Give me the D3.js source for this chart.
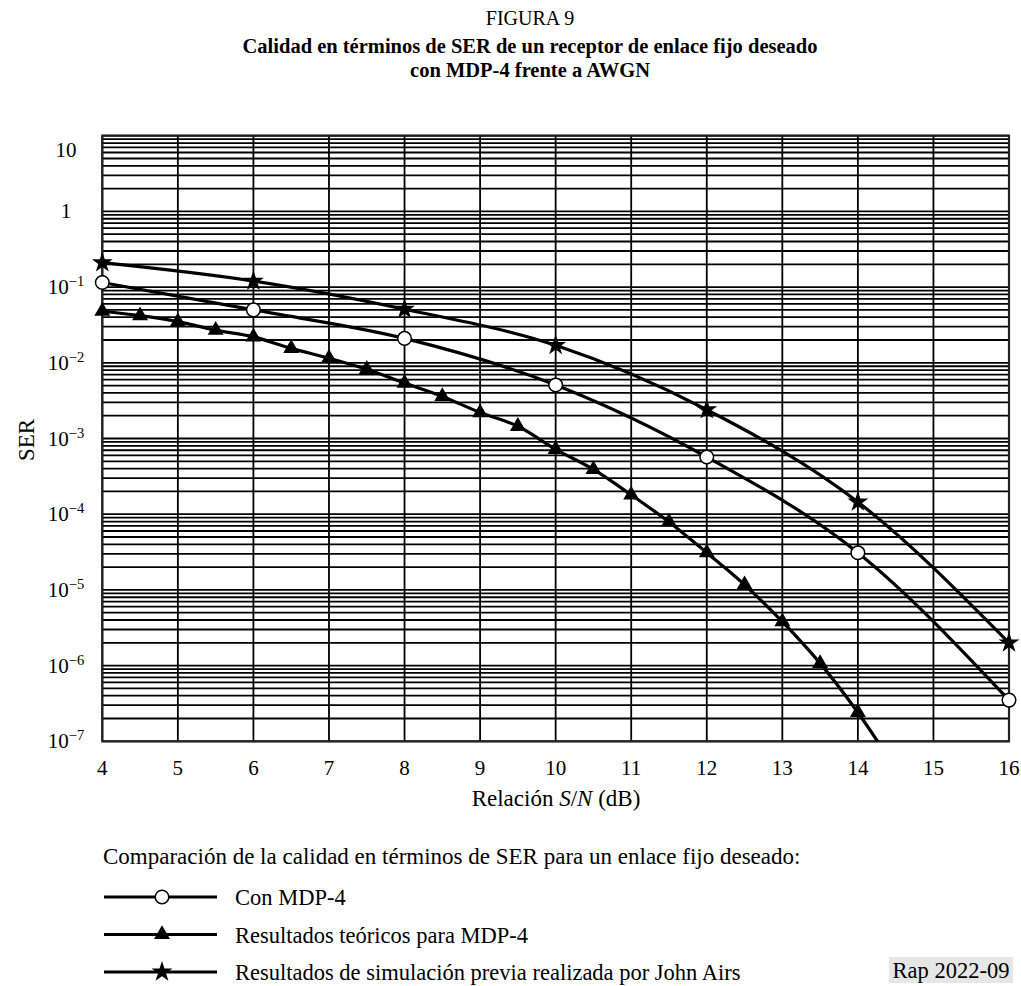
<!DOCTYPE html>
<html>
<head>
<meta charset="utf-8">
<script src="https://cdnjs.cloudflare.com/ajax/libs/d3/7.8.5/d3.min.js"></script>
<style>
  body { margin: 0; background: #fff; }
  text { font-family: "Liberation Serif", "Times New Roman", serif; fill: #000; }
</style>
</head>
<body>
<svg width="1021" height="986"></svg>
<script>
// series (S/N in dB, SER)
var snrStep2 = [4, 6, 8, 10, 12, 14, 16];
var serMdp4 = [0.115, 0.050, 0.021, 0.0051, 5.7e-4, 3.1e-5, 3.5e-7];
var serSim = [0.21, 0.12, 0.051, 0.017, 0.0024, 1.45e-4, 2.0e-6];
var snrHalf = [4, 4.5, 5, 5.5, 6, 6.5, 7, 7.5, 8, 8.5, 9, 9.5, 10, 10.5, 11, 11.5, 12, 12.5, 13, 13.5, 14, 14.5];
var serTheory = [0.048, 0.042, 0.035, 0.027, 0.022, 0.0155, 0.0115, 0.0082, 0.0054, 0.0036, 0.0022, 0.00145,
  7.2e-4, 3.9e-4, 1.8e-4, 7.9e-5, 3.1e-5, 1.17e-5, 3.8e-6, 1.07e-6, 2.4e-7, 4.3e-8];

var xTicks = [4, 5, 6, 7, 8, 9, 10, 11, 12, 13, 14, 15, 16];
var yDecades = [10, 1, 1e-1, 1e-2, 1e-3, 1e-4, 1e-5, 1e-6, 1e-7];
var yLabels = ['10', '1', '-1', '-2', '-3', '-4', '-5', '-6', '-7'];

var legendNames = ['Con MDP-4', 'Resultados teóricos para MDP-4', 'Resultados de simulación previa realizada por John Airs'];

var svg = d3.select('svg');
var pLeft = 102.3, pRight = 1009, pTop = 135.7, pBottom = 741.3;

var x = d3.scaleLinear().domain([4, 16]).range([pLeft, pRight]);
var y = d3.scaleLog().domain([1e-7, 10]).range([pBottom, pTop]);

// titles
svg.append('text').attr('x', 530).attr('y', 25).attr('text-anchor', 'middle')
	.style('font-size', '20px').text('FIGURA 9');
svg.append('text').attr('x', 530).attr('y', 53).attr('text-anchor', 'middle')
	.style('font-size', '20.5px').style('font-weight', 'bold')
	.text('Calidad en términos de SER de un receptor de enlace fijo deseado');
svg.append('text').attr('x', 530).attr('y', 77).attr('text-anchor', 'middle')
	.style('font-size', '20.5px').style('font-weight', 'bold')
	.text('con MDP-4 frente a AWGN');

// horizontal grid: every 1..9 x 10^k
var gridVals = [];
for (var k = -7; k < 1; k++) {
	for (var m = 1; m <= 9; m++) gridVals.push(m * Math.pow(10, k));
}
gridVals.push(10);

svg.append('g').selectAll('line').data(gridVals).enter().append('line')
	.attr('x1', pLeft).attr('x2', pRight)
	.attr('y1', function(d) { return y(d); })
	.attr('y2', function(d) { return y(d); })
	.attr('stroke', '#000').attr('stroke-width', 1.8);

svg.append('g').selectAll('line').data(xTicks).enter().append('line')
	.attr('x1', function(d) { return x(d); })
	.attr('x2', function(d) { return x(d); })
	.attr('y1', pTop).attr('y2', pBottom)
	.attr('stroke', '#000').attr('stroke-width', 1.8);

svg.append('rect').attr('x', pLeft).attr('y', pTop)
	.attr('width', pRight - pLeft).attr('height', pBottom - pTop)
	.attr('fill', 'none').attr('stroke', '#222').attr('stroke-width', 2.2);

// x tick labels
svg.append('g').selectAll('text').data(xTicks).enter().append('text')
	.attr('x', function(d) { return x(d); })
	.attr('y', pBottom + 34)
	.attr('text-anchor', 'middle')
	.style('font-size', '21px')
	.text(function(d) { return d; });

// y tick labels
var yl = svg.append('g').selectAll('text').data(yDecades).enter().append('text')
	.attr('x', 66)
	.attr('y', function(d, i) { return i == 0 ? y(d) + 21 : y(d) + 7; })
	.attr('text-anchor', 'middle')
	.style('font-size', '21px');
yl.each(function(d, i) {
	var t = d3.select(this);
	if (i < 2) { t.text(yLabels[i]); return; }
	t.append('tspan').text('10');
	t.append('tspan').attr('dy', -8).style('font-size', '14.5px').text('\u2212' + yLabels[i].slice(1));
});

// axis titles
var xt = svg.append('text').attr('x', 556).attr('y', 806).attr('text-anchor', 'middle').style('font-size', '23px');
xt.append('tspan').text('Relación ');
xt.append('tspan').style('font-style', 'italic').text('S');
xt.append('tspan').text('/');
xt.append('tspan').style('font-style', 'italic').text('N');
xt.append('tspan').text(' (dB)');

svg.append('text').attr('transform', 'translate(34,440) rotate(-90)')
	.attr('text-anchor', 'middle').style('font-size', '23px').text('SER');

// curves
svg.append('clipPath').attr('id', 'plotClip').append('rect')
	.attr('x', pLeft).attr('y', pTop).attr('width', pRight - pLeft).attr('height', pBottom - pTop);

var line = d3.line()
	.x(function(d) { return x(d[0]); })
	.y(function(d) { return y(d[1]); })
	.curve(d3.curveMonotoneX);

var series = [
	{ xs: snrStep2, ys: serMdp4, sym: 'circle' },
	{ xs: snrHalf, ys: serTheory, sym: 'triangle' },
	{ xs: snrStep2, ys: serSim, sym: 'star' }
];

function drawMarker(g, sym, cx, cy) {
	if (sym == 'circle') {
		g.append('circle').attr('cx', cx).attr('cy', cy).attr('r', 6.8)
			.attr('fill', '#fff').attr('stroke', '#000').attr('stroke-width', 1.5);
	} else if (sym == 'triangle') {
		g.append('path').attr('d', d3.symbol().type(d3.symbolTriangle).size(110)())
			.attr('transform', 'translate(' + cx + ',' + cy + ')').attr('fill', '#000');
	} else {
		g.append('path').attr('d', d3.symbol().type(d3.symbolStar).size(135)())
			.attr('transform', 'translate(' + cx + ',' + cy + ')').attr('fill', '#000');
	}
}

series.forEach(function(s) {
	var pts = s.xs.map(function(v, i) { return [v, s.ys[i]]; });
	svg.append('path').datum(pts)
		.attr('d', line)
		.attr('clip-path', 'url(#plotClip)')
		.attr('fill', 'none').attr('stroke', '#000').attr('stroke-width', 3.2);
	var mg = svg.append('g');
	pts.forEach(function(p) {
		if (p[1] < 1e-7) return;
		drawMarker(mg, s.sym, x(p[0]), y(p[1]));
	});
});

// legend
svg.append('text').attr('x', 103).attr('y', 864).style('font-size', '23px')
	.text('Comparación de la calidad en términos de SER para un enlace fijo deseado:');

var syms = ['circle', 'triangle', 'star'];
legendNames.forEach(function(name, i) {
	var ly = 897 + i * 37.5;
	svg.append('line').attr('x1', 104).attr('x2', 217).attr('y1', ly).attr('y2', ly)
		.attr('stroke', '#000').attr('stroke-width', 3.2);
	drawMarker(svg.append('g'), syms[i], 162, ly);
	svg.append('text').attr('x', 235).attr('y', ly + 8).style('font-size', '22.5px').text(name);
});

// reference tag
svg.append('rect').attr('x', 889).attr('y', 957).attr('width', 124).attr('height', 26).attr('fill', '#e6e6e6');
svg.append('text').attr('x', 951).attr('y', 978).attr('text-anchor', 'middle')
	.style('font-size', '22.5px').text('Rap 2022-09');
</script>
</body>
</html>
